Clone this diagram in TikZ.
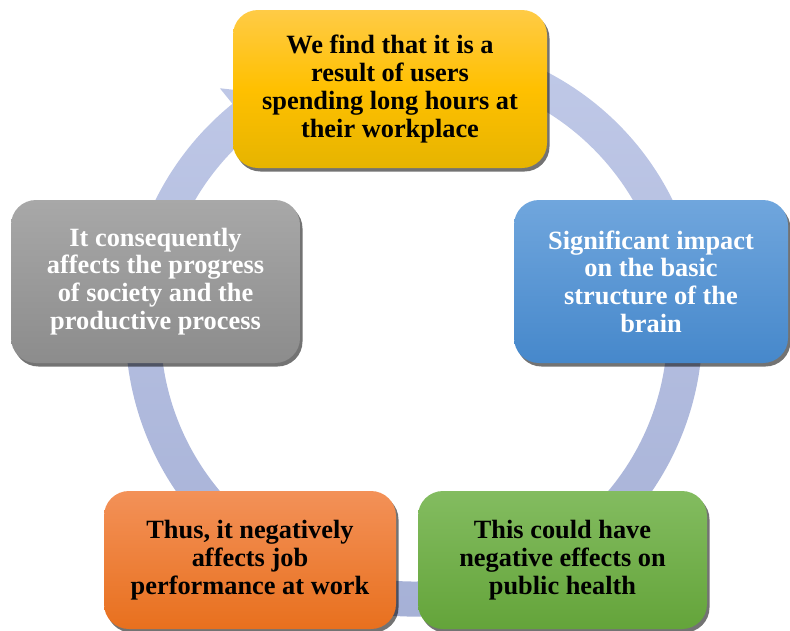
\documentclass[tikz,border=0pt]{standalone}
\usepackage{fontspec}
\setmainfont{Liberation Serif}
\usetikzlibrary{shadows}

\definecolor{ringtop}{RGB}{194,203,233}
\definecolor{ringbottom}{RGB}{164,175,213}
\definecolor{findtop}{RGB}{255,203,70}
\definecolor{findmid}{RGB}{255,192,0}
\definecolor{findbottom}{RGB}{230,180,0}
\definecolor{impacttop}{RGB}{112,166,221}
\definecolor{impactbottom}{RGB}{70,136,203}
\definecolor{healthtop}{RGB}{131,188,96}
\definecolor{healthbottom}{RGB}{100,164,58}
\definecolor{worktop}{RGB}{243,145,88}
\definecolor{workbottom}{RGB}{232,112,30}
\definecolor{progresstop}{RGB}{168,168,168}
\definecolor{progressbottom}{RGB}{140,140,140}

\begin{document}
\begin{tikzpicture}[
    cyclebox/.style={rounded corners=0.5cm, align=center, inner sep=0pt,
      font=\fontsize{15}{15.8}\selectfont\bfseries,
      drop shadow={shadow xshift=0.05cm, shadow yshift=-0.07cm, fill=black, opacity=0.55}},
  ]
  \useasboundingbox (0,0) rectangle (15.8,12.6);
  \clip (0,0) rectangle (15.8,12.6);

  % Drawing the ring arrow (clockwise)
  \begin{scope}[shift={(8.28,6.04)}]
    \shade [top color=ringtop, bottom color=ringbottom] (110:5.77) arc [start angle=110, end angle=-231, radius=5.77] -- (-231:6.17) -- (-239.5:5.42) -- (-231:4.67) -- (-231:5.07) arc [start angle=-231, end angle=110, radius=5.07] -- cycle;%
  \end{scope}

  % Marking top box
  \node [cyclebox, minimum width=6.28cm, minimum height=3.16cm, top color=findtop, bottom color=findbottom, middle color=findmid] (find) at (7.80,10.82) {We find that it is a\\result of users\\spending long hours at\\their workplace};%

  % Marking right box
  \node [cyclebox, text=white, minimum width=5.48cm, minimum height=3.26cm, top color=impacttop, bottom color=impactbottom] (impact) at (13.02,6.97) {Significant impact\\on the basic\\structure of the\\brain};%

  % Marking bottom right box
  \node [cyclebox, minimum width=5.78cm, minimum height=2.76cm, top color=healthtop, bottom color=healthbottom] (health) at (11.25,1.40) {This could have\\negative effects on\\public health};%

  % Marking bottom left box
  \node [cyclebox, minimum width=5.84cm, minimum height=2.76cm, top color=worktop, bottom color=workbottom] (work) at (5.00,1.40) {Thus, it negatively\\affects job\\performance at work};%

  % Marking left box
  \node [cyclebox, text=white, minimum width=5.78cm, minimum height=3.26cm, top color=progresstop, bottom color=progressbottom] (progress) at (3.11,6.97) {It consequently\\affects the progress\\of society and the\\productive process};%
\end{tikzpicture}
\end{document}
